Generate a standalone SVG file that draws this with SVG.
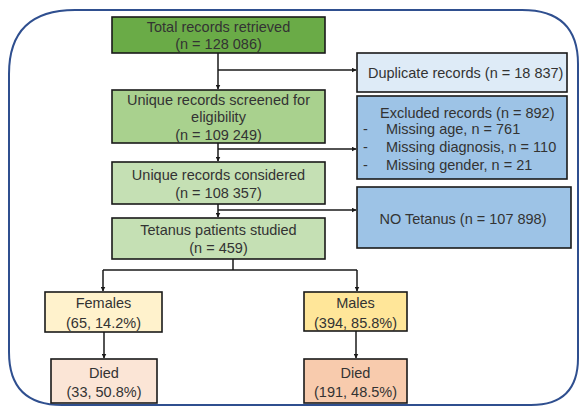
<svg xmlns="http://www.w3.org/2000/svg" width="579" height="408" viewBox="0 0 579 408">
<style>
text{font-family:"Liberation Sans",Arial,sans-serif;font-size:14.5px;fill:#333}
.b{stroke:#1a1a1a;stroke-width:1.6}
.c{fill:none;stroke:#1a1a1a;stroke-width:1.5}
.m{text-anchor:middle}
</style>
<defs>
<marker id="ah" viewBox="0 0 10 10" refX="9" refY="5" markerWidth="5" markerHeight="5" orient="auto" markerUnits="userSpaceOnUse">
<path d="M0,0 L10,5 L0,10 z" fill="#1a1a1a"/>
</marker>
</defs>
<rect width="579" height="408" fill="#fff"/>
<path d="M75,10 H522 Q578,10 578,64 V358 Q578,405 531,405 H62 Q9,405 9,352 V74 Q9,10 75,10 Z" fill="none" stroke="#2f4f8f" stroke-width="2"/>
<g id="connectors">
<path class="c" d="M218,53 V89" marker-end="url(#ah)"/>
<path class="c" d="M218,70 H356" marker-end="url(#ah)"/>
<path class="c" d="M218,143 V161" marker-end="url(#ah)"/>
<path class="c" d="M218,149 H356" marker-end="url(#ah)"/>
<path class="c" d="M218,204 V217" marker-end="url(#ah)"/>
<path class="c" d="M218,210 H356" marker-end="url(#ah)"/>
<path class="c" d="M233,259 V270 M103,270 H357"/>
<path class="c" d="M103,270 V291" marker-end="url(#ah)"/>
<path class="c" d="M357,270 V291" marker-end="url(#ah)"/>
<path class="c" d="M104,332 V358" marker-end="url(#ah)"/>
<path class="c" d="M356,331 V358" marker-end="url(#ah)"/>
</g>
<g id="total">
<rect class="b" x="112" y="17" width="213" height="36" fill="#6aab47"/>
<text class="m" x="218.5" y="32">Total records retrieved</text>
<text class="m" x="218.5" y="49">(n = 128 086)</text>
</g>
<g id="screened">
<rect class="b" x="112" y="90" width="213" height="53" fill="#a9d18e"/>
<text class="m" x="218.5" y="105">Unique records screened for</text>
<text class="m" x="218.5" y="122">eligibility</text>
<text class="m" x="218.5" y="140">(n = 109 249)</text>
</g>
<g id="considered">
<rect class="b" x="112" y="162" width="213" height="42" fill="#c5e0b4"/>
<text class="m" x="218.5" y="180">Unique records considered</text>
<text class="m" x="218.5" y="198">(n = 108 357)</text>
</g>
<g id="studied">
<rect class="b" x="112" y="218" width="213" height="41" fill="#c5e0b4"/>
<text class="m" x="218.5" y="235">Tetanus patients studied</text>
<text class="m" x="218.5" y="253">(n = 459)</text>
</g>
<g id="duplicate">
<rect class="b" x="357" y="53" width="210" height="39" fill="#deebf7"/>
<text x="368" y="78">Duplicate records (n = 18 837)</text>
</g>
<g id="excluded">
<rect class="b" x="357" y="96" width="210" height="83" fill="#9dc3e6"/>
<text x="380" y="118">Excluded records (n = 892)</text>
<text x="363" y="134">-</text><text x="386" y="134">Missing age, n = 761</text>
<text x="363" y="152">-</text><text x="386" y="152">Missing diagnosis, n = 110</text>
<text x="363" y="170">-</text><text x="386" y="170">Missing gender, n = 21</text>
</g>
<g id="notetanus">
<rect class="b" x="357" y="187" width="214" height="61" fill="#9dc3e6"/>
<text class="m" x="463" y="224">NO Tetanus (n = 107 898)</text>
</g>
<g id="females">
<rect class="b" x="45" y="292" width="117" height="40" fill="#fff2cc"/>
<text class="m" x="103.5" y="308">Females</text>
<text class="m" x="103.5" y="328">(65, 14.2%)</text>
</g>
<g id="males">
<rect class="b" x="304" y="292" width="103" height="39" fill="#ffe699"/>
<text class="m" x="355.5" y="308">Males</text>
<text class="m" x="355.5" y="328">(394, 85.8%)</text>
</g>
<g id="died-f">
<rect class="b" x="51" y="359" width="106" height="44" fill="#fbe5d6"/>
<text class="m" x="104" y="378">Died</text>
<text class="m" x="104" y="397">(33, 50.8%)</text>
</g>
<g id="died-m">
<rect class="b" x="304" y="359" width="103" height="44" fill="#f8cbad"/>
<text class="m" x="355.5" y="378">Died</text>
<text class="m" x="355.5" y="397">(191, 48.5%)</text>
</g>
</svg>
